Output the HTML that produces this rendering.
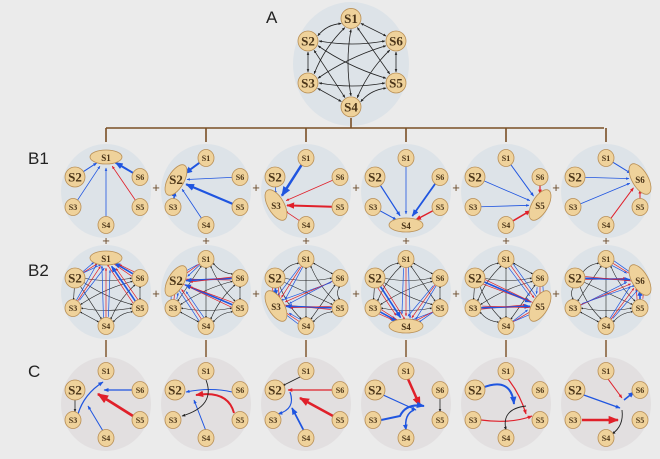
<!DOCTYPE html>
<html><head><meta charset="utf-8"><style>
html,body{margin:0;padding:0;background:#ebebeb;width:660px;height:459px;overflow:hidden}
svg{display:block}
text{font-family:"Liberation Serif",serif;font-weight:bold;fill:#4a3418}
.lab{font-family:"Liberation Sans",sans-serif;font-weight:normal;fill:#222;font-size:17px}
</style></head><body>
<svg id="s" width="660" height="459" xmlns="http://www.w3.org/2000/svg">
<defs>
<marker id="mk" viewBox="0 0 10 10" refX="9" refY="5" markerWidth="4" markerHeight="4" orient="auto"><path d="M0,1 L10,5 L0,9z" fill="#222"/></marker>
<marker id="mb" viewBox="0 0 10 10" refX="9" refY="5" markerWidth="4" markerHeight="4" orient="auto"><path d="M0,1 L10,5 L0,9z" fill="#1f55e0"/></marker>
<marker id="mr" viewBox="0 0 10 10" refX="9" refY="5" markerWidth="4" markerHeight="4" orient="auto"><path d="M0,1 L10,5 L0,9z" fill="#e0202a"/></marker>
<marker id="mks" viewBox="0 0 10 10" refX="1" refY="5" markerWidth="4" markerHeight="4" orient="auto"><path d="M10,1 L0,5 L10,9z" fill="#222"/></marker>
</defs>
<text class="lab" x="266" y="23">A</text>
<text class="lab" x="28" y="164">B1</text>
<text class="lab" x="28" y="276">B2</text>
<text class="lab" x="28" y="377">C</text>
<g id="g"></g>
</svg>
<script>
var NS="http://www.w3.org/2000/svg",G=document.getElementById("g");
function el(t,a,txt){var e=document.createElementNS(NS,t);for(var k in a)e.setAttribute(k,a[k]);if(txt)e.textContent=txt;G.appendChild(e);return e;}
var COL={k:"#222",b:"#1f55e0",r:"#e0202a"},MK={k:"url(#mk)",b:"url(#mb)",r:"url(#mr)"};
var REL={S1:[0,-33],S2:[-31,-14],S6:[34,-14],S3:[-33,16],S5:[34,16],S4:[0,34]};
var NAMES=["S1","S2","S6","S3","S5","S4"];
function pos(cx,cy,n,s){s=s||1;return [cx+REL[n][0]*s,cy+REL[n][1]*s];}
function line(a,b,c,w,r1,r2,both,curve){
 var dx=b[0]-a[0],dy=b[1]-a[1],L=Math.hypot(dx,dy),ux=dx/L,uy=dy/L;
 var x1=a[0]+ux*r1,y1=a[1]+uy*r1,x2=b[0]-ux*r2,y2=b[1]-uy*r2;
 var d="M"+x1+","+y1+" L"+x2+","+y2;
 if(curve){var mx=(x1+x2)/2-uy*curve,my=(y1+y2)/2+ux*curve;d="M"+x1+","+y1+" Q"+mx+","+my+" "+x2+","+y2;}
 var at={d:d,fill:"none",stroke:COL[c],"stroke-width":w,"marker-end":MK[c]};
 if(both)at["marker-start"]="url(#mks)";
 el("path",at);
}
function node(p,n,big){el("ellipse",{cx:p[0],cy:p[1],rx:big?10:8,ry:big?10:8.5,fill:"#efd29b",stroke:"#b98f55","stroke-width":0.8});
 el("text",{x:p[0],y:p[1]+(big?4.5:3),"text-anchor":"middle","font-size":big?13:8},n);}
function bigEl(c,n){el("ellipse",{cx:c[0],cy:c[1],rx:c[2],ry:c[3],transform:"rotate("+c[4]+" "+c[0]+" "+c[1]+")",fill:"#efd29b",stroke:"#b98f55","stroke-width":0.8});
 el("text",{x:c[0],y:c[1]+4,"text-anchor":"middle","font-size":n=="S2"?13:9},n);}
// A
el("ellipse",{cx:351,cy:64,rx:58,ry:62,fill:"#dde3e8"});
var AP={};NAMES.forEach(function(n){AP[n]=pos(351,62,n,1.32);});
AP.S2=[308,41];AP.S6=[396,41];AP.S3=[308,83];AP.S5=[396,83];
for(var i=0;i<6;i++)for(var j=i+1;j<6;j++){line(AP[NAMES[i]],AP[NAMES[j]],"k",0.8,11,11,true,(i+j)%2?6:0);}
NAMES.forEach(function(n){node(AP[n],n,true);});
// bracket
var br="#7a4f25";
el("path",{d:"M351,118 V128 M106,128 H604",stroke:br,"stroke-width":1.6,fill:"none"});
var CX=[106,206,306,406,506,606];
CX.forEach(function(x){el("path",{d:"M"+x+",128 V142",stroke:br,"stroke-width":1.6});
 el("path",{d:"M"+x+",340 V357",stroke:br,"stroke-width":1.4});
 el("text",{x:x,y:245,"text-anchor":"middle","font-size":13,style:"font-family:Liberation Sans;font-weight:normal;fill:#6a4a2a"},"+");});
[156,256,356,456,556].forEach(function(x){
 el("text",{x:x,y:192,"text-anchor":"middle","font-size":13,style:"font-family:Liberation Sans;font-weight:normal;fill:#6a4a2a"},"+");
 el("text",{x:x,y:298,"text-anchor":"middle","font-size":13,style:"font-family:Liberation Sans;font-weight:normal;fill:#6a4a2a"},"+");});
var TGT=["S1","S2","S3","S4","S5","S6"];
var BIG=[[0,-34,16,7,0],[-30,-11,8,17,30],[-30,14,8,17,-30],[0,34,17,7,0],[34,14,8,17,30],[34,-12,8,17,-30]];
var B1E=[
 {S2:"b1",S3:"b0.8",S4:"b0.8",S6:"b2",S5:"r0.8"},
 {S1:"b2",S6:"b0.8",S5:"b2.2",S3:"b1.5",S4:"b0.8"},
 {S1:"b2.5",S2:"b0.8",S6:"r0.8",S5:"r2",S4:"r0.8"},
 {S1:"b0.8",S2:"b1.2",S3:"b1",S6:"b1.8",S5:"r1.5"},
 {S1:"b1",S2:"b0.8",S3:"b0.8",S6:"r1.2",S4:"r1.5"},
 {S1:"b1",S2:"b0.8",S3:"b0.8",S4:"r1",S5:"r1"}];
for(var p=0;p<6;p++){
 var cx=CX[p];
 // B1
 var cy=191;el("ellipse",{cx:cx,cy:cy,rx:45,ry:47,fill:"#dde3e8"});
 var t=TGT[p],bc=[cx+BIG[p][0],cy+BIG[p][1],BIG[p][2],BIG[p][3],BIG[p][4]];
 for(var n in B1E[p]){var s=B1E[p][n];line(pos(cx,cy,n),[bc[0],bc[1]],s[0],parseFloat(s.slice(1)),8,11,false,0);}
 NAMES.forEach(function(n){if(n!=t)node(pos(cx,cy,n),n,n=="S2");});
 bigEl(bc,t);
 // B2
 cy=292;el("ellipse",{cx:cx,cy:cy,rx:45,ry:47,fill:"#dde3e8"});
 var bc2=[cx+BIG[p][0],cy+BIG[p][1],BIG[p][2],BIG[p][3],BIG[p][4]];
 var others=NAMES.filter(function(n){return n!=t;});
 for(var i=0;i<others.length;i++)for(var j=i+1;j<others.length;j++)
  line(pos(cx,cy,others[i]),pos(cx,cy,others[j]),"k",0.6,8,8,true,(i+j)%2?5:0);
 others.forEach(function(n,k){var a=pos(cx,cy,n);
  for(var m=0;m<3;m++){var off=(m-1)*2.2;var c=(m+k)%2?"r":"b";
   line([a[0]+off,a[1]-off],[bc2[0]+off*2,bc2[1]+off],c,(m==1&&k%2)?1.6:0.7,7,10,false,0);}});
 others.forEach(function(n){node(pos(cx,cy,n),n,n=="S2");});
 bigEl(bc2,t);
 // C
 cy=404;el("ellipse",{cx:cx,cy:cy,rx:45,ry:47,fill:"#e2dfe0"});
}
var CP=[
 [["M-28,10 Q-22,-10 -3,-22","b",1.3],["M26,-14 L-2,-14","b",1.3],["M27,12 L-8,-10","r",2.8],["M-3,27 L-18,2","b",1],["M-31,-5 L-31,8","k",0.8]],
 [["M26,-12 Q5,-17 -20,-12","b",1],["M28,9 Q22,-14 -10,-9","r",2],["M0,27 L-12,-4","b",1],["M0,-24 Q10,2 -24,12","k",0.9]],
 [["M-4,-28 L-24,-18","k",0.9],["M26,-14 L-18,-14","r",1.2],["M-16,-12 Q-10,5 -28,10","b",1.2],["M27,12 L-6,-6","r",2.5],["M-2,27 L-14,4","b",1.8]],
 [["M2,-25 L14,2","r",2.5],["M-25,-10 L10,6","b",1.2],["M-25,16 L-6,12 Q0,-1 18,2","b",2],["M8,6 Q-2,10 0,26","b",1.5],["M34,-6 L34,8","k",0.8]],
 [["M-24,-16 Q5,-28 8,0","b",2],["M2,-25 Q14,-10 20,10","r",1.2],["M-25,16 Q5,20 26,12","r",1.2],["M20,2 Q-5,5 0,26","k",0.9]],
 [["M2,-25 L16,-6","r",1],["M18,-4 L28,-12","b",1.6],["M-25,-10 L14,4","b",1.2],["M-24,16 L12,16","r",2.6],["M16,6 Q18,22 6,30","k",0.9]]];
CP.forEach(function(list,p){var cx=CX[p],cy=404;
 list.forEach(function(e){el("path",{d:e[0],transform:"translate("+cx+" "+cy+")",fill:"none",stroke:COL[e[1]],"stroke-width":e[2],"marker-end":MK[e[1]]});});
 NAMES.forEach(function(n){node(pos(cx,cy,n),n,n=="S2");});});
</script>
</body></html>
